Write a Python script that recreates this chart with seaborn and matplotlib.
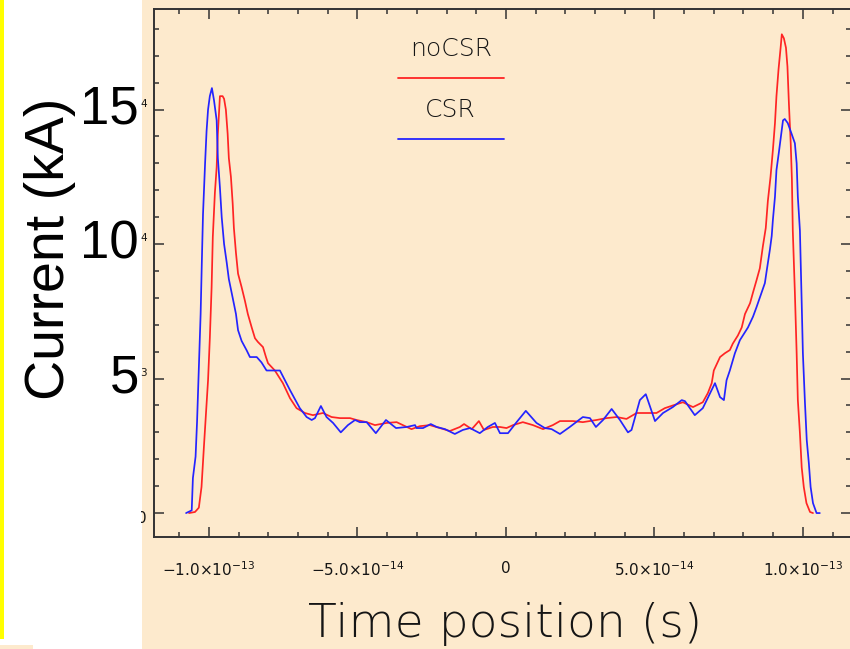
import numpy as np
import pandas as pd
import matplotlib
matplotlib.use("Agg")
import matplotlib.pyplot as plt
import seaborn as sns
import matplotlib.transforms as mtransforms
from matplotlib.patches import Rectangle
from matplotlib.lines import Line2D
from matplotlib.ticker import MultipleLocator, FixedLocator

# ---------------- data (time in units of 1e-14 s, current in kA) ----------------
t_nocsr = np.array([
    -10.67, -10.47, -10.34, -10.25, -10.17, -10.10, -10.03, -9.97, -9.91, -9.87,
    -9.80, -9.74, -9.70, -9.63, -9.54, -9.49, -9.43, -9.37, -9.33, -9.26,
    -9.20, -9.16, -9.09, -9.02, -8.90, -8.79, -8.69, -8.56, -8.45, -8.35,
    -8.18, -8.08, -8.01, -7.78, -7.51, -7.27, -7.05, -6.77, -6.50, -6.16,
    -5.87, -5.59, -5.25, -5.03, -4.69, -4.41, -4.02, -3.68, -3.47, -3.18,
    -2.90, -2.56, -2.22, -1.89, -1.55, -1.41, -1.15, -0.91, -0.74, -0.44,
    -0.20, 0.02, 0.24, 0.57, 0.91, 1.25, 1.58, 1.82, 2.26, 2.59,
    3.05, 3.39, 3.73, 4.06, 4.40, 4.74, 5.07, 5.35, 5.62, 5.96,
    6.30, 6.63, 6.80, 6.93, 7.00, 7.21, 7.37, 7.54, 7.64, 7.81,
    7.94, 8.05, 8.22, 8.32, 8.44, 8.55, 8.65, 8.75, 8.82, 8.91,
    8.99, 9.06, 9.11, 9.18, 9.25, 9.29, 9.36, 9.43, 9.48, 9.53,
    9.59, 9.63, 9.66, 9.73, 9.79, 9.83, 9.90, 9.96, 10.03, 10.12,
    10.24, 10.34]) * 1e-14
i_nocsr = np.array([
    0.0, 0.04, 0.2, 0.97, 2.45, 3.7, 4.94, 6.5, 8.4, 10.26,
    11.9, 12.86, 14.1, 15.5, 15.5, 15.4, 15.0, 14.1, 13.2, 12.5,
    11.5, 10.6, 9.67, 8.9, 8.4, 7.9, 7.4, 6.9, 6.5, 6.36,
    6.17, 5.8, 5.57, 5.3, 4.83, 4.27, 3.9, 3.72, 3.64, 3.72,
    3.57, 3.53, 3.53, 3.46, 3.38, 3.27, 3.35, 3.38, 3.27, 3.12,
    3.23, 3.27, 3.16, 3.05, 3.2, 3.31, 3.12, 3.42, 3.09, 3.2,
    3.2, 3.16, 3.27, 3.38, 3.27, 3.12, 3.27, 3.42, 3.42, 3.38,
    3.46, 3.53, 3.57, 3.5, 3.72, 3.72, 3.72, 3.9, 4.0, 4.12,
    3.94, 4.12, 4.46, 4.83, 5.3, 5.8, 5.94, 6.06, 6.3, 6.6,
    6.9, 7.4, 7.8, 8.2, 8.66, 9.1, 9.9, 10.6, 11.6, 12.5,
    13.5, 14.5, 15.5, 16.5, 17.3, 17.8, 17.65, 17.3, 16.6, 15.2,
    13.75, 12.4, 10.5, 8.2, 5.94, 4.2, 2.97, 1.7, 0.97, 0.37,
    0.04, 0.0])

t_csr = np.array([
    -10.77, -10.58, -10.54, -10.45, -10.40, -10.34, -10.28, -10.24, -10.20, -10.13,
    -10.08, -10.03, -9.97, -9.90, -9.83, -9.74, -9.70, -9.63, -9.57, -9.49,
    -9.40, -9.33, -9.20, -9.09, -9.02, -8.90, -8.73, -8.62, -8.39, -8.23,
    -8.06, -7.95, -7.61, -7.27, -6.94, -6.71, -6.54, -6.43, -6.23, -6.04,
    -5.82, -5.56, -5.32, -5.08, -4.92, -4.69, -4.38, -4.04, -3.70, -3.34,
    -3.06, -3.01, -2.79, -2.53, -2.33, -2.05, -1.72, -1.45, -1.21, -0.88,
    -0.61, -0.37, -0.20, 0.07, 0.36, 0.67, 1.03, 1.31, 1.54, 1.82,
    2.15, 2.59, 2.83, 3.03, 3.27, 3.56, 3.84, 4.11, 4.23, 4.51,
    4.71, 5.02, 5.29, 5.62, 5.92, 6.03, 6.36, 6.63, 7.04, 7.21,
    7.34, 7.43, 7.54, 7.71, 7.88, 8.15, 8.32, 8.44, 8.61, 8.72,
    8.78, 8.89, 8.95, 8.99, 9.06, 9.11, 9.19, 9.26, 9.33, 9.39,
    9.49, 9.62, 9.73, 9.79, 9.83, 9.90, 9.96, 10.00, 10.07, 10.13,
    10.20, 10.26, 10.34, 10.46, 10.57]) * 1e-14
i_csr = np.array([
    0.0, 0.1, 1.3, 2.1, 3.4, 5.4, 7.4, 9.3, 11.1, 13.0,
    14.2, 15.0, 15.5, 15.8, 15.35, 14.6, 13.2, 12.1, 11.0, 10.0,
    9.3, 8.7, 8.0, 7.4, 6.8, 6.4, 6.05, 5.8, 5.8, 5.6,
    5.3, 5.3, 5.3, 4.57, 3.9, 3.57, 3.46, 3.53, 3.98, 3.57,
    3.35, 3.0, 3.27, 3.46, 3.38, 3.38, 2.97, 3.46, 3.16, 3.2,
    3.27, 3.16, 3.16, 3.31, 3.2, 3.12, 2.94, 3.09, 3.16, 2.97,
    3.2, 3.35, 2.97, 2.97, 3.38, 3.8, 3.35, 3.16, 3.12, 2.94,
    3.2, 3.57, 3.53, 3.2, 3.46, 3.87, 3.46, 3.0, 3.09, 4.2,
    4.42, 3.42, 3.72, 3.94, 4.2, 4.16, 3.64, 3.9, 4.83, 4.31,
    4.2, 4.94, 5.3, 5.94, 6.43, 6.9, 7.3, 7.66, 8.2, 8.55,
    9.0, 9.8, 10.3, 10.9, 11.76, 12.75, 13.4, 14.0, 14.6, 14.65,
    14.5, 14.1, 13.75, 13.0, 11.76, 10.5, 7.8, 5.94, 4.09, 2.71,
    1.86, 0.97, 0.37, 0.0, 0.0])

series_names = ["noCSR", "CSR"]
series_colors = ["#ff2424", "#2424ff"]

x_ticks = [-1e-13, -5e-14, 0.0, 5e-14, 1e-13]
x_tick_labels = [r"$-1.0{\times}10^{-13}$", r"$-5.0{\times}10^{-14}$", "0",
                 r"$5.0{\times}10^{-14}$", r"$1.0{\times}10^{-13}$"]
y_ticks = [0, 5, 10, 15]
y_big_labels = ["", "5", "10", "15"]          # pasted-over slide labels
y_exponent_rest = ["0", "3", "4", "4"]        # visible remains of the original tick labels

x_label = "Time position (s)"
y_label = "Current (kA)"

# ---------------- styling ----------------
sns.set_theme(style="ticks")
plt.rcParams["font.family"] = ["DejaVu Sans"]
plt.rcParams["mathtext.default"] = "regular"

W, H = 850, 649
PEACH = "#fdeacd"
INK = "#151515"
fig = plt.figure(figsize=(W / 100, H / 100), dpi=100, facecolor="white")

# peach slide area
fig.add_artist(Rectangle((142 / W, 0), 1, 1, transform=fig.transFigure,
                         facecolor=PEACH, edgecolor="none", zorder=-5))

ax = fig.add_axes([154 / W, 1 - 537 / H, (851 - 154) / W, (537 - 9) / H])
ax.set_facecolor(PEACH)

df = pd.concat([
    pd.DataFrame({"t": t_nocsr, "I": i_nocsr, "series": series_names[0]}),
    pd.DataFrame({"t": t_csr, "I": i_csr, "series": series_names[1]}),
], ignore_index=True)

sns.lineplot(data=df, x="t", y="I", hue="series", units="series",
             palette=dict(zip(series_names, series_colors)),
             estimator=None, sort=False, legend=False, ax=ax, linewidth=1.25)

ax.set_xlim(-11.85e-14, 11.62e-14)
ax.set_ylim(-0.89, 18.74)
ax.set_xlabel("")
ax.set_ylabel("")

ax.xaxis.set_major_locator(FixedLocator(x_ticks))
ax.set_xticklabels(x_tick_labels)
ax.xaxis.set_minor_locator(MultipleLocator(1e-14))
ax.yaxis.set_major_locator(FixedLocator(y_ticks))
ax.set_yticklabels([])
ax.yaxis.set_minor_locator(MultipleLocator(1))

ax.tick_params(which="both", direction="in", top=True, right=True,
               color="#333333", width=1.1)
ax.tick_params(which="major", length=7.2)
ax.tick_params(which="minor", length=3.6)
ax.tick_params(axis="x", which="major", pad=17, labelsize=11, labelcolor=INK)
for s in ax.spines.values():
    s.set_color("#333333")
    s.set_linewidth(1.4)

trans = mtransforms.blended_transform_factory(fig.transFigure, ax.transData)
dy = 6 / 26.9   # remains sit a few pixels above their tick

# remains of the original y tick labels (partly hidden by the white margin)
for yv, rest in zip(y_ticks, y_exponent_rest):
    if rest == "0":
        fig.text(147 / W, yv - 0.2, rest, transform=trans, ha="right", va="center",
                 fontsize=11, color=INK, zorder=0.5)
    else:
        fig.text(147 / W, yv + dy, rest, transform=trans, ha="right", va="center",
                 fontsize=7.5, color=INK, zorder=3)

# white slide margin
fig.add_artist(Rectangle((0, 0), 141 / W, 1, transform=fig.transFigure,
                         facecolor="white", edgecolor="none", zorder=1))
fig.add_artist(Rectangle((0, 0), 33 / W, 4 / H, transform=fig.transFigure,
                         facecolor=PEACH, edgecolor="none", zorder=1.5))
fig.add_artist(Rectangle((0, 1 - 639 / H), 3.5 / W, 1, transform=fig.transFigure,
                         facecolor="#ffff00", edgecolor="none", zorder=1.5))

# big overlaid labels
for yv, lab in zip(y_ticks, y_big_labels):
    if lab:
        fig.text(139 / W, yv, lab, transform=trans, ha="right", va="center",
                 fontsize=38, family="Liberation Sans", color="black", zorder=3)
fig.text(50 / W, 1 - 249 / H, y_label, rotation=90, ha="center", va="center",
         fontsize=40, family="Liberation Sans", color="black", zorder=3)

# x label
fig.text(505 / W, 1 - 637 / H, x_label, ha="center", va="baseline",
         fontsize=34, color=INK, fontweight="light", zorder=3)

# legend (drawn as in the IDL plot)
fig.text(451 / W, 1 - 48.5 / H, series_names[0], ha="center", va="center",
         fontsize=18, color=INK, fontweight="light", zorder=3)
fig.add_artist(Line2D([398 / W, 504 / W], [1 - 77.5 / H] * 2, transform=fig.transFigure,
                      color=series_colors[0], lw=1.3, zorder=3))
fig.text(450 / W, 1 - 110 / H, series_names[1], ha="center", va="center",
         fontsize=18, color=INK, fontweight="light", zorder=3)
fig.add_artist(Line2D([398 / W, 504 / W], [1 - 139.5 / H] * 2, transform=fig.transFigure,
                      color=series_colors[1], lw=1.3, zorder=3))

fig.savefig("out.png", dpi=100, facecolor="white")
